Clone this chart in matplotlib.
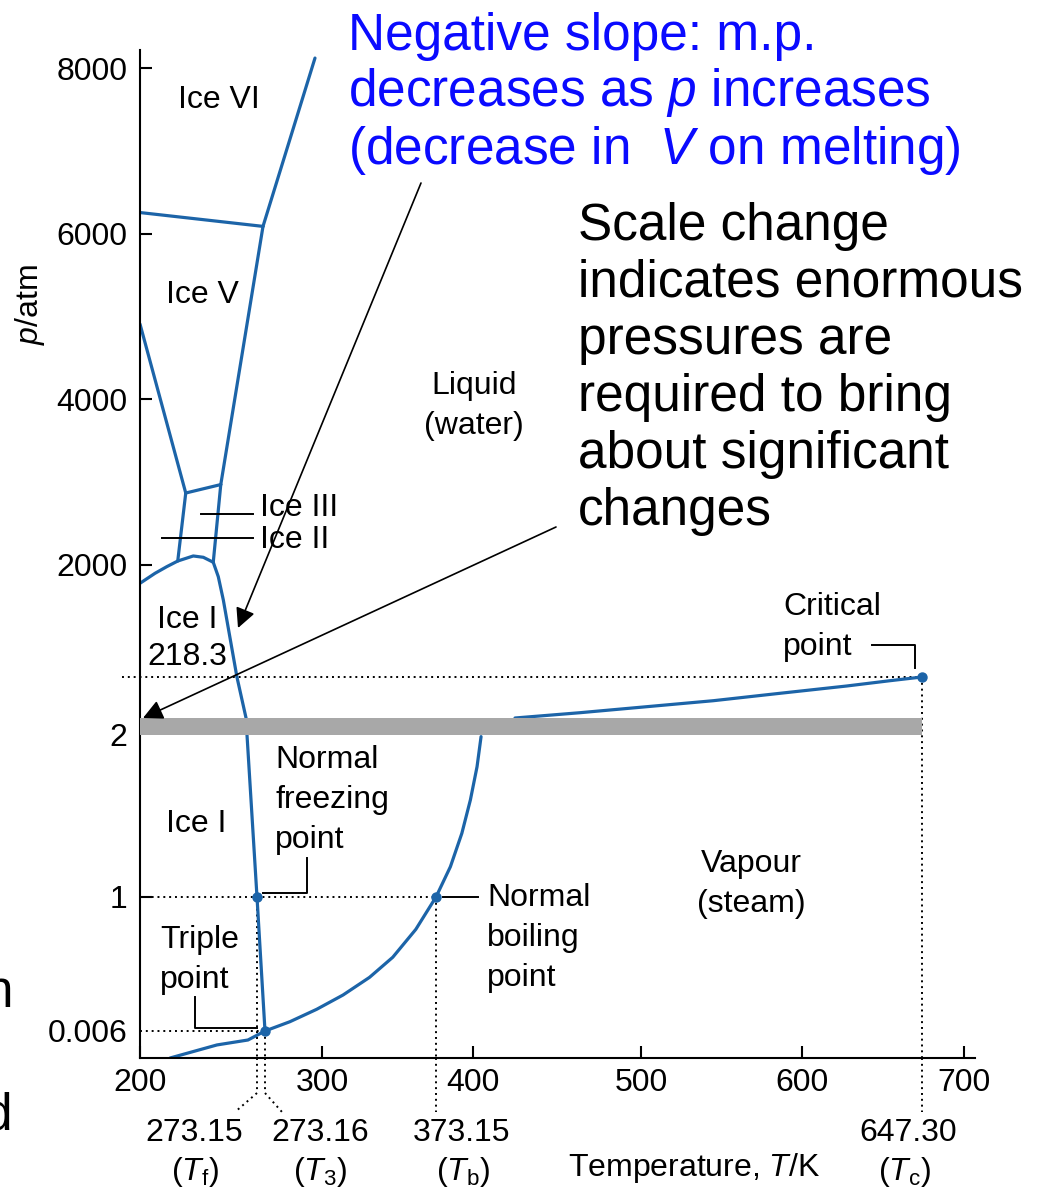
import numpy as np
import matplotlib
matplotlib.use("Agg")
import matplotlib.pyplot as plt
from matplotlib.lines import Line2D

plt.rcParams['font.family'] = ['Liberation Sans', 'DejaVu Sans']
plt.rcParams['mathtext.fontset'] = 'custom'
plt.rcParams['mathtext.rm'] = 'Liberation Sans'
plt.rcParams['mathtext.it'] = 'Liberation Sans:italic'
plt.rcParams['mathtext.bf'] = 'Liberation Sans:bold'

W, H = 1060, 1193

# phase boundaries of water, T in K, p in atm
vi_v_T = [200, 273.1575]
vi_v_p = [6255, 6088]
vi_liq_T = [273.1575, 296.7]
vi_liq_p = [6088, 8120]
v_liq_T = [273.1575, 250.5]
v_liq_p = [6088, 2971]
v_iii_T = [250.5, 228.6]
v_iii_p = [2971, 2869]
v_ii_T = [200, 228.6]
v_ii_p = [4909, 2869]
iii_ii_T = [228.6, 223.6]
iii_ii_p = [2869, 2048]
iii_liq_T = [250.5, 245.8]
iii_liq_p = [2971, 2033]
ice1_hi_T = [200, 209.4, 216.7, 223.6, 233.3, 239.6, 245.8]
ice1_hi_p = [1709, 1868, 1973, 2048, 2109, 2093, 2033]
melt_T = [245.8, 248.95, 252.1, 260.6, 266.3, 266.9, 273.15, 273.16]
melt_p = [2033, 1814, 1443, 218.3, 3, 2, 1, 0.006]
subl_T = [218.8, 248.1, 267.5, 273.16]
subl_p = [0, 0.0029, 0.0040, 0.006]
vap_lo_T = [273.16, 284.9, 297.5, 313.5, 330.5, 345.4, 360.2, 373.15,
            383.6, 391.9, 398.1, 402.4, 404.8]
vap_lo_p = [0.006, 0.075, 0.167, 0.273, 0.404, 0.553, 0.760, 1,
            1.187, 1.393, 1.599, 1.804, 1.990]
vap_hi_T = [425.0, 463.7, 503.5, 544.9, 586.3, 617.6, 634.7, 647.3]
vap_hi_p = [3, 30.8, 62.3, 93.8, 132.7, 171.0, 198.9, 218.3]

# special points
pts_T = [273.15, 273.16, 373.15, 647.30]
pts_p = [1, 0.006, 1, 218.3]

x_ticks = [200, 300, 400, 500, 600, 700]
y_ticks = [0.006, 1, 2, 2000, 4000, 6000, 8000]
y_ticklabels = ['0.006', '1', '2', '2000', '4000', '6000', '8000']

# the diagram is schematic: piecewise axes
T_knots = [150, 200, 273.15, 273.16, 300, 373.15, 400, 500, 600, 647.3, 700, 750]
x_knots = [60, 140, 257, 265, 322, 436, 473, 641, 802, 922, 964, 1004]
p_knots = [0, 0.006, 1, 2, 3, 218.3, 2000, 8000, 9000]
y_knots = [0, 27, 161, 323, 340, 381, 493, 990, 1072.8]


def fx(t):
    return np.interp(t, T_knots, x_knots)


def fx_inv(v):
    return np.interp(v, x_knots, T_knots)


def fy(p):
    return np.interp(p, p_knots, y_knots)


def fy_inv(v):
    return np.interp(v, y_knots, p_knots)


def fp(x, y):
    # image pixel -> figure fraction
    return (x / W, 1 - y / H)


blue = '#1c64a8'
fig = plt.figure(figsize=(W / 100, H / 100), dpi=100)
ax = fig.add_axes([140 / W, (H - 1058) / H, 835 / W, 1008 / H])
ax.set_xscale('function', functions=(fx, fx_inv))
ax.set_yscale('function', functions=(fy, fy_inv))
ax.set_xlim(200, fx_inv(975))
ax.set_ylim(0, fy_inv(1008))

for T, p in [(vi_v_T, vi_v_p), (vi_liq_T, vi_liq_p), (v_liq_T, v_liq_p),
             (v_iii_T, v_iii_p), (v_ii_T, v_ii_p), (iii_ii_T, iii_ii_p),
             (iii_liq_T, iii_liq_p), (ice1_hi_T, ice1_hi_p), (melt_T, melt_p),
             (subl_T, subl_p), (vap_lo_T, vap_lo_p), (vap_hi_T, vap_hi_p)]:
    ax.plot(T, p, color=blue, lw=2.3, solid_capstyle='round', solid_joinstyle='round', zorder=2)

ax.plot(pts_T, pts_p, 'o', color=blue, ms=6.5, zorder=5, clip_on=False)

# scale-break band
ax.fill_between([200, 647.3], 2, 3, color='#a8a8a8', lw=0, zorder=3)

dot = dict(color='k', lw=1.4, linestyle=(0, (1, 2)), zorder=1, clip_on=False)
ax.plot([fx_inv(122), 647.3], [218.3, 218.3], **dot)
ax.plot([200, 373.15], [1, 1], **dot)
ax.plot([200, 273.16], [0.006, 0.006], **dot)
ax.plot([273.15, 273.15], [1, 0], **dot)
ax.plot([273.16, 273.16], [0.006, 0], **dot)
ax.plot([373.15, 373.15], [1, 0], **dot)
ax.plot([647.3, 647.3], [218.3, 0], **dot)
tr = ax.get_xaxis_transform()
y1, y2 = (1058 - 1093) / 1008, (1058 - 1112) / 1008
ax.plot([273.15, 273.15, fx_inv(235)], [0, y1, y2], transform=tr, **dot)
ax.plot([273.16, 273.16, fx_inv(282)], [0, y1, y2], transform=tr, **dot)
ax.plot([373.15, 373.15], [0, y2], transform=tr, **dot)
ax.plot([647.3, 647.3], [0, y2], transform=tr, **dot)

for s in ['top', 'right']:
    ax.spines[s].set_visible(False)
for s in ['left', 'bottom']:
    ax.spines[s].set_linewidth(1.5)
ax.set_xticks(x_ticks)
ax.set_xticklabels([str(v) for v in x_ticks])
ax.set_yticks(y_ticks)
ax.set_yticklabels(y_ticklabels)
ax.minorticks_off()
ax.tick_params(direction='in', length=8.5, width=1.5, labelsize=23)
ax.tick_params(axis='x', pad=7)
ax.tick_params(axis='y', pad=9)
yt = ax.yaxis.get_major_ticks()
yt[0].tick1line.set_visible(False)
yt[2].tick1line.set_visible(False)

fs = 23
fig.text(*fp(30, 305), '$p$/atm', fontsize=fs, rotation=90, ha='center', va='center')

# region labels
lab = dict(fontsize=fs, linespacing=1.45)
fig.text(*fp(219, 100), 'Ice VI', ha='center', va='center', **lab)
fig.text(*fp(202, 295), 'Ice V', ha='center', va='center', **lab)
fig.text(*fp(474, 406), 'Liquid\n(water)', ha='center', va='center', multialignment='center', **lab)
fig.text(*fp(260, 508), 'Ice III', ha='left', va='center', **lab)
fig.text(*fp(260, 540), 'Ice II', ha='left', va='center', **lab)
fig.text(*fp(157, 620), 'Ice I', ha='left', va='center', **lab)
fig.text(*fp(147, 657), '218.3', ha='left', va='center', **lab)
fig.text(*fp(275, 800), 'Normal\nfreezing\npoint', ha='left', va='center', **lab)
fig.text(*fp(166, 824), 'Ice I', ha='left', va='center', **lab)
fig.text(*fp(751, 884), 'Vapour\n(steam)', ha='center', va='center', multialignment='center', **lab)
fig.text(*fp(160, 960), 'Triple\npoint', ha='left', va='center', **lab)
fig.text(*fp(487, 938), 'Normal\nboiling\npoint', ha='left', va='center', **lab)
fig.text(*fp(783, 627), 'Critical\npoint', ha='left', va='center', **lab)

# extra temperature labels under the axis
for x, s in [(194, '273.15'), (320, '273.16'), (462, '373.15'), (908, '647.30')]:
    fig.text(*fp(x, 1133), s, fontsize=fs, ha='center', va='center')
for x, s in [(195, r'($T_\mathrm{f}$)'), (320, r'($T_3$)'), (463, r'($T_\mathrm{b}$)'), (905, r'($T_\mathrm{c}$)')]:
    fig.text(*fp(x, 1172), s, fontsize=fs, ha='center', va='center')
fig.text(*fp(694, 1168), 'Temperature, $T$/K', fontsize=fs, ha='center', va='center')


def leader(xs, ys):
    fig.add_artist(Line2D([x / W for x in xs], [1 - y / H for y in ys], color='k', lw=1.4))


leader([201, 253], [514, 514])
leader([162, 253], [538, 538])
leader([263, 307, 307], [893, 893, 858])
leader([195, 195, 257], [997, 1028, 1028])
leader([443, 478], [897, 897])
leader([872, 915, 915], [645, 645, 668])

# slide annotations
big = 37
fig.text(*fp(348, 12), 'Negative slope: m.p.\ndecreases as $p$ increases\n(decrease in  $V$ on melting)',
         fontsize=big, color='#0a0aff', ha='left', va='top', linespacing=1.12)
fig.text(*fp(578, 202), 'Scale change\nindicates enormous\npressures are\nrequired to bring\nabout significant\nchanges',
         fontsize=big, color='k', ha='left', va='top', linespacing=1.21)
fig.text(*fp(13, 1007), 'n', fontsize=big, ha='right', va='baseline')
fig.text(*fp(13, 1130), 'd', fontsize=big, ha='right', va='baseline')

arr = dict(arrowstyle='-|>', mutation_scale=30, lw=1.2, color='k', shrinkA=0, shrinkB=0)
ax.annotate('', xy=fp(238, 628), xycoords='figure fraction', xytext=fp(421, 183),
            textcoords='figure fraction', arrowprops=arr, annotation_clip=False)
ax.annotate('', xy=fp(143, 718), xycoords='figure fraction', xytext=fp(556, 527),
            textcoords='figure fraction', arrowprops=arr, annotation_clip=False)

fig.savefig('out.png', dpi=100)
